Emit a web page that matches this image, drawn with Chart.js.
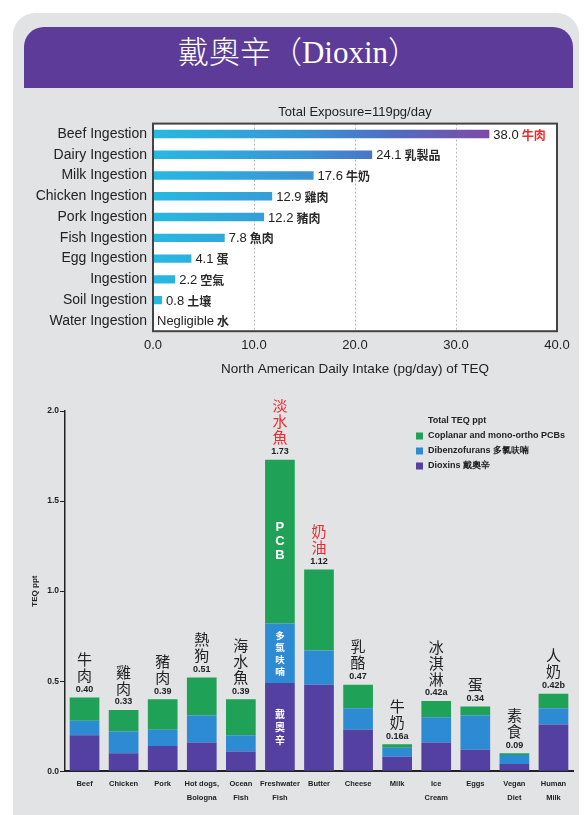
<!DOCTYPE html>
<html>
<head>
<meta charset="utf-8">
<title>戴奧辛（Dioxin）</title>
<script src="https://cdn.jsdelivr.net/npm/chart.js@4.4.1/dist/chart.umd.min.js"></script>
<style>
  html, body { margin: 0; padding: 0; background: #fff; width: 584px; height: 815px; overflow: hidden; }
  #card { position: absolute; left: 13px; top: 13px; width: 566px; height: 840px; background: #e2e3e5; border-radius: 22px; }
  #header { position: absolute; left: 24px; top: 27px; width: 549px; height: 61px; background: #5c3b99;
            border-radius: 20px 20px 0 0; color: #fff; text-align: center; line-height: 58px;
            font: 300 31px "Liberation Serif", "Noto Sans CJK TC", serif; }
  #intake { position: absolute; left: 0; top: 95px; }
  #teq { position: absolute; left: 0; top: 385px; }
</style>
</head>
<body>
<div id="card"></div>
<div id="header">戴奧辛（Dioxin）</div>
<canvas id="intake" width="584" height="290"></canvas>
<canvas id="teq" width="584" height="430"></canvas>
<script>
// top chart: daily intake by source
const intakeSources = ["Beef Ingestion", "Dairy Ingestion", "Milk Ingestion", "Chicken Ingestion", "Pork Ingestion",
  "Fish Ingestion", "Egg Ingestion", "Ingestion", "Soil Ingestion", "Water Ingestion"];
// bar lengths as drawn in the picture (printed numbers are below)
const intakeBars = [33.3, 21.7, 15.9, 11.8, 11.0, 7.1, 3.8, 2.2, 0.9, 0];
const intakeValues = ["38.0", "24.1", "17.6", "12.9", "12.2", "7.8", "4.1", "2.2", "0.8", "Negligible"];
const intakeNames = ["牛肉", "乳製品", "牛奶", "雞肉", "豬肉", "魚肉", "蛋", "空氣", "土壤", "水"];
const intakeTicks = [0, 10, 20, 30, 40];

// bottom chart: TEQ ppt by food
const foods = [["Beef"], ["Chicken"], ["Pork"], ["Hot dogs,", "Bologna"], ["Ocean", "Fish"], ["Freshwater", "Fish"],
  ["Butter"], ["Cheese"], ["Milk"], ["Ice", "Cream"], ["Eggs"], ["Vegan", "Diet"], ["Human", "Milk"]];
const foodsZh = ["牛肉", "雞肉", "豬肉", "熱狗", "海水魚", "淡水魚", "奶油", "乳酪", "牛奶", "冰淇淋", "蛋", "素食", "人奶"];
const totalLabels = ["0.40", "0.33", "0.39", "0.51", "0.39", "1.73", "1.12", "0.47", "0.16a", "0.42a", "0.34", "0.09", "0.42b"];
const dioxins = [0.20, 0.10, 0.14, 0.16, 0.11, 0.49, 0.48, 0.23, 0.08, 0.16, 0.12, 0.04, 0.26];
const furans = [0.08, 0.12, 0.09, 0.15, 0.09, 0.33, 0.19, 0.12, 0.05, 0.14, 0.19, 0.05, 0.09];
const pcbs = [0.13, 0.12, 0.17, 0.21, 0.20, 0.91, 0.45, 0.13, 0.02, 0.09, 0.05, 0.01, 0.08];
const teqTicks = [0, 0.5, 1, 1.5, 2];

const SANS = "'Liberation Sans', Arial, sans-serif";
const CJK = "'Noto Sans CJK TC', sans-serif";

// ---------- top chart ----------
const plotBox = {
  id: "plotBox",
  beforeDraw(chart) {
    const { ctx, chartArea: a } = chart;
    ctx.save();
    ctx.fillStyle = "#fff";
    ctx.fillRect(a.left, a.top, a.width, a.height);
    ctx.restore();
  },
  afterDatasetsDraw(chart) {
    const { ctx, chartArea: a } = chart;
    ctx.save();
    ctx.strokeStyle = "#444";
    ctx.lineWidth = 2;
    ctx.strokeRect(a.left, a.top, a.width, a.height);
    ctx.restore();
  }
};

const intakeLabels = {
  id: "intakeLabels",
  afterDatasetsDraw(chart) {
    const { ctx } = chart;
    const bars = chart.getDatasetMeta(0).data;
    const top = intakeBars.indexOf(Math.max(...intakeBars));
    ctx.save();
    ctx.textBaseline = "middle";
    bars.forEach((bar, i) => {
      let x = bar.x + 4;
      ctx.font = "13px " + SANS;
      ctx.fillStyle = "#222";
      ctx.fillText(intakeValues[i], x, bar.y + 1);
      x += ctx.measureText(intakeValues[i]).width + 3;
      ctx.font = "bold 12px " + CJK;
      ctx.fillStyle = i === top ? "#ee2a2e" : "#2a2a2a";
      ctx.fillText(intakeNames[i], x, bar.y + 1);
    });
    ctx.restore();
  }
};

new Chart(document.getElementById("intake"), {
  type: "bar",
  data: {
    labels: intakeSources,
    datasets: [{
      data: intakeBars,
      barPercentage: 0.4,
      categoryPercentage: 1,
      backgroundColor: (c) => {
        const { ctx, chartArea } = c.chart;
        if (!chartArea) return "#2bb5de";
        const x = c.chart.scales.x;
        const g = ctx.createLinearGradient(chartArea.left, 0, x.getPixelForValue(Math.max(...intakeBars)), 0);
        g.addColorStop(0, "#27b9e1");
        g.addColorStop(0.45, "#3a94d4");
        g.addColorStop(0.7, "#4d6fc3");
        g.addColorStop(1, "#7e4aa6");
        return g;
      }
    }]
  },
  options: {
    indexAxis: "y",
    responsive: false,
    animation: false,
    layout: { padding: { top: 1, right: 27, bottom: 4, left: 0 } },
    scales: {
      x: {
        min: 0,
        max: 40,
        afterBuildTicks: (s) => { s.ticks = intakeTicks.map(v => ({ value: v })); },
        ticks: { callback: (v) => v.toFixed(1), font: { family: SANS, size: 13 }, color: "#222", padding: 6 },
        grid: {
          drawTicks: false,
          color: (c) => (c.tick && (c.tick.value === 0 || c.tick.value === 40)) ? "rgba(0,0,0,0)" : "#b8b8b8"
        },
        border: { display: false, dash: [2, 2] },
        title: {
          display: true,
          text: "North American Daily Intake (pg/day) of TEQ",
          font: { family: SANS, size: 13.5 },
          color: "#222",
          padding: { top: 2, bottom: 4 }
        }
      },
      y: {
        afterFit: (s) => { s.width = 153; },
        grid: { display: false, drawTicks: false },
        border: { display: false },
        ticks: { font: { family: SANS, size: 14 }, color: "#222", padding: 6 }
      }
    },
    plugins: {
      legend: { display: false },
      tooltip: { enabled: false },
      title: {
        display: true,
        fullSize: false,
        text: "Total Exposure=119pg/day",
        font: { family: SANS, size: 13, weight: "normal" },
        color: "#222",
        padding: { top: 9, bottom: 3 }
      }
    }
  },
  plugins: [plotBox, intakeLabels]
});

// ---------- bottom chart ----------
const stackLabels = {
  id: "stackLabels",
  afterDatasetsDraw(chart) {
    const { ctx } = chart;
    const n = chart.data.datasets.length;
    const tops = chart.getDatasetMeta(n - 1).data;
    const maxTotal = Math.max(...tops.map((b, i) => dioxins[i] + furans[i] + pcbs[i]));
    ctx.save();
    ctx.textAlign = "center";
    ctx.textBaseline = "middle";
    tops.forEach((bar, i) => {
      const total = dioxins[i] + furans[i] + pcbs[i];
      ctx.font = "bold 9px " + SANS;
      ctx.fillStyle = "#222";
      ctx.fillText(totalLabels[i], bar.x, bar.y - 8);
      const chars = [...foodsZh[i]];
      ctx.font = "15px " + CJK;
      ctx.fillStyle = total > 1 ? "#ee2a2e" : "#222";
      chars.forEach((ch, k) => {
        ctx.fillText(ch, bar.x, bar.y - 22 - (chars.length - 1 - k) * 16);
      });
    });

    // words written inside the tallest bar
    const idx = tops.findIndex((b, i) => dioxins[i] + furans[i] + pcbs[i] === maxTotal);
    const inner = [
      { text: "戴奧辛", size: 10, step: 13, family: CJK },
      { text: "多氯呋喃", size: 9.5, step: 12, family: CJK },
      { text: "PCB", size: 13, step: 14, family: SANS }
    ];
    ctx.fillStyle = "#fff";
    inner.forEach((t, d) => {
      const el = chart.getDatasetMeta(d).data[idx];
      const mid = (el.y + el.base) / 2;
      const chars = [...t.text];
      ctx.font = "bold " + t.size + "px " + t.family;
      chars.forEach((ch, k) => {
        ctx.fillText(ch, el.x, mid + (k - (chars.length - 1) / 2) * t.step);
      });
    });
    ctx.restore();
  }
};

const teqLegend = {
  id: "teqLegend",
  afterDraw(chart) {
    const { ctx, chartArea: a } = chart;
    const x = a.right - 157;
    let y = a.top + 10;
    ctx.save();
    ctx.textBaseline = "middle";
    ctx.font = "bold 9px " + SANS;
    ctx.fillStyle = "#222";
    ctx.fillText("Total TEQ ppt", x + 12, y);
    chart.data.datasets.slice().reverse().forEach((ds) => {
      y += 15;
      ctx.fillStyle = ds.backgroundColor;
      ctx.fillRect(x, y - 3.5, 7, 7);
      ctx.fillStyle = "#222";
      ctx.fillText(ds.label, x + 12, y);
    });
    ctx.restore();
  }
};

new Chart(document.getElementById("teq"), {
  type: "bar",
  data: {
    labels: foods,
    datasets: [
      { label: "Dioxins 戴奧辛", data: dioxins, backgroundColor: "#5440a0" },
      { label: "Dibenzofurans 多氯呋喃", data: furans, backgroundColor: "#2d8bd3" },
      { label: "Coplanar and mono-ortho PCBs", data: pcbs, backgroundColor: "#1fa257" }
    ]
  },
  options: {
    responsive: false,
    animation: false,
    layout: { padding: { top: 26, right: 11, bottom: 4, left: 0 } },
    datasets: { bar: { barPercentage: 0.76, categoryPercentage: 1 } },
    scales: {
      x: {
        stacked: true,
        grid: { display: false, drawTicks: false },
        border: { color: "#222", width: 2 },
        ticks: {
          font: { family: SANS, size: 7.5, weight: "bold", lineHeight: 1.85 },
          color: "#222",
          padding: 6,
          maxRotation: 0,
          autoSkip: false
        }
      },
      y: {
        stacked: true,
        min: 0,
        max: 2,
        afterFit: (s) => { s.width = 65; },
        afterBuildTicks: (s) => { s.ticks = teqTicks.map(v => ({ value: v })); },
        ticks: { callback: (v) => v.toFixed(1), font: { family: SANS, size: 8.5, weight: "bold" }, color: "#222", padding: 1 },
        grid: { drawOnChartArea: false, drawTicks: true, tickLength: 5, color: "#222" },
        border: { color: "#222", width: 1.5 },
        title: {
          display: true,
          text: "TEQ ppt",
          font: { family: SANS, size: 8, weight: "bold" },
          color: "#222",
          padding: { top: 30, bottom: 0 }
        }
      }
    },
    plugins: {
      legend: { display: false },
      tooltip: { enabled: false }
    }
  },
  plugins: [stackLabels, teqLegend]
});
</script>
</body>
</html>
